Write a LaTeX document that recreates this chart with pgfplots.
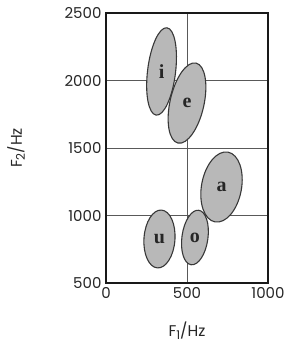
\documentclass[border=0pt]{standalone}
\usepackage{fontspec}
\setmainfont{Poppins}
\newfontfamily\letterfont{Liberation Serif}
\usepackage{pgfplots}
\usepackage{pgfplotstable}
\pgfplotsset{compat=1.18}

% ellipse mark: uses per-point \rx, \ry (pt) and \ang (deg)
\pgfdeclareplotmark{vowel}{%
  \pgfmathsetmacro\vca{cos(\ang)}%
  \pgfmathsetmacro\vsa{sin(\ang)}%
  \pgfmathsetmacro\vax{\rx*\vca}\pgfmathsetmacro\vay{\rx*\vsa}%
  \pgfmathsetmacro\vbx{-\ry*\vsa}\pgfmathsetmacro\vby{\ry*\vca}%
  \pgfpathellipse{\pgfpointorigin}{\pgfpoint{\vax pt}{\vay pt}}{\pgfpoint{\vbx pt}{\vby pt}}%
  \pgfusepathqfillstroke}

\pgfplotstableread{
x    y     rx   ry    ang    lab
343  2067  14   44    -7     i
500  1833  17   41    -12.7  e
713  1211  20   35.5  -10.5  a
330  826   15.5 29    -4     u
549  837   13   27.5  -8     o
}\vowels

\begin{document}
\begin{tikzpicture}
\begin{axis}[
  name=ax,
  scale only axis,
  width=162pt, height=270pt,
  xmin=0, xmax=1000, ymin=500, ymax=2500,
  xtick={0,500,1000}, ytick={500,1000,1500,2000,2500},
  major tick length=0pt,
  grid=major,
  major grid style={black!65, line width=0.6pt},
  axis line style={black!90, line width=1.1pt},
  axis on top,
  /pgf/number format/assume math mode=true,
  /pgf/number format/1000 sep={},
  tick label style={font=\fontsize{15}{15}\selectfont, text=black!85},
  xticklabel style={yshift=-1pt},
  yticklabel style={xshift=-1pt},
  every axis x label/.style={at={(axis description cs:0.5,0)}, anchor=center, yshift=-48pt},
  every axis y label/.style={at={(axis description cs:-0.555,0.5)}, rotate=90, anchor=center},
  label style={font=\fontsize{15.5}{15.5}\selectfont, text=black!85},
  xlabel={F\raisebox{-0.35ex}{\fontsize{12}{12}\selectfont 1}/Hz},
  ylabel={F\raisebox{-0.35ex}{\fontsize{12}{12}\selectfont 2}/Hz},
]
\addplot[
  scatter, only marks, mark=vowel,
  mark options={fill=black!28, draw=black!78, line width=1.1pt},
  scatter/@pre marker code/.code={},
  scatter/@post marker code/.code={},
  visualization depends on={\thisrow{rx} \as \rx},
  visualization depends on={\thisrow{ry} \as \ry},
  visualization depends on={\thisrow{ang} \as \ang},
  point meta=explicit symbolic,
  nodes near coords,
  every node near coord/.append style={anchor=center, inner sep=0pt,
     font=\letterfont\bfseries\fontsize{20}{20}\selectfont, text=black!85},
] table[x=x, y=y, meta=lab] {\vowels};
\end{axis}
\pgfresetboundingbox
\path ([shift={(-106pt,-62pt)}]ax.south west) rectangle ([shift={(25pt,13pt)}]ax.north east);
\end{tikzpicture}
\end{document}
